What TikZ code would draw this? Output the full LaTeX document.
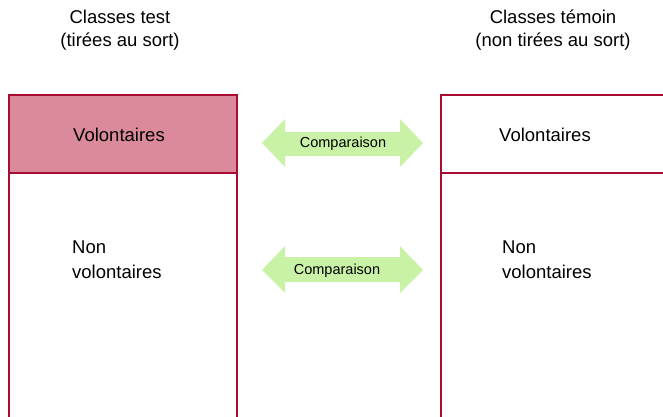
\documentclass[tikz,border=0pt]{standalone}
\usepackage{fontspec}
\setmainfont{Liberation Sans}
\definecolor{boxred}{HTML}{A80C30}
\definecolor{boxpink}{HTML}{DB8A9C}
\definecolor{arrgreen}{HTML}{C9F2A6}
\tikzset{
  frame/.style={draw=boxred, line width=2.2pt},
  title/.style={font=\fontsize{18.5}{22.5}\selectfont, align=center, inner sep=0pt},
  label/.style={font=\fontsize{18.5}{25}\selectfont, align=left, inner sep=0pt},
  cmp/.style={font=\fontsize{14.5}{17}\selectfont, inner sep=0pt},
  arr/.style={fill=arrgreen, draw=none}
}
\begin{document}
\begin{tikzpicture}[x=1pt,y=-1pt]
\useasboundingbox (0,0) rectangle (663,417);
\clip (0,0) rectangle (663,417);
% titles
\node[title] (t1) at (120,30) {Classes test\\(tirées au sort)};
\node[title] (t2) at (553,30) {Classes témoin\\(non tirées au sort)};
% left box
\fill[boxpink] (9,95) rectangle (237,173);
\draw[frame] (9,430) -- (9,95) -- (237,95) -- (237,430);
\draw[frame] (9,173) -- (237,173);
% right box
\draw[frame] (441,430) -- (441,95) -- (680,95);
\draw[frame] (441,173) -- (680,173);
% box texts
\node[label] (v1) at (119,135) {Volontaires};
\node[label] (v2) at (545,135) {Volontaires};
\node[label, anchor=north west] (n1) at (72,241) {Non\\volontaires};
\node[label, anchor=north west] (n2) at (502,241) {Non\\volontaires};
% arrows
\fill[arr] (262,143) -- (285,119) -- (285,132) -- (400,132) -- (400,119) -- (423,143)
  -- (400,167) -- (400,156) -- (285,156) -- (285,167) -- cycle;
\node[cmp] (c1) at (343,144) {Comparaison};
\fill[arr] (262,270) -- (285,246) -- (285,257) -- (400,257) -- (400,246) -- (423,270)
  -- (400,293) -- (400,282) -- (285,282) -- (285,293) -- cycle;
\node[cmp] (c2) at (337,271) {Comparaison};
\end{tikzpicture}
\end{document}
